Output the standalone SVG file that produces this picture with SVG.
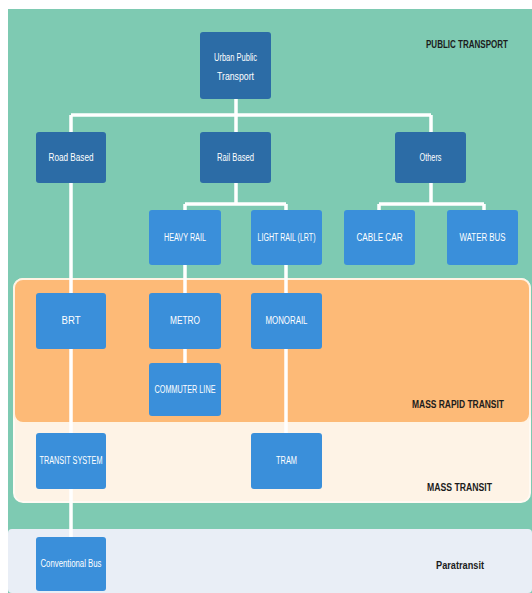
<svg xmlns="http://www.w3.org/2000/svg" width="532" height="593" viewBox="0 0 532 593">
<style>
.bg{fill:#7ecab2}
.dk{fill:#2c6ca6}
.lt{fill:#3a8fda}
.nt{font-family:"Liberation Sans",Arial,sans-serif;font-size:10px;fill:#ffffff;text-anchor:middle}
.lb{font-family:"Liberation Sans",Arial,sans-serif;font-size:11px;font-weight:bold;fill:#1c1c1c;text-anchor:middle}
.cn{stroke:#ffffff;stroke-width:3.5;fill:none}
</style>
<rect width="532" height="593" fill="#ffffff"/>
<rect class="bg" x="8" y="9" width="524" height="584"/>
<rect x="14" y="279" width="516" height="223" rx="9" fill="#fef3e6" stroke="#fffaf3" stroke-width="2"/>
<rect x="14" y="279" width="516" height="144" rx="9" fill="#fdba77" stroke="#fff3e3" stroke-width="2"/>
<rect x="8" y="529" width="524" height="64" rx="4" fill="#e9eef6"/>
<g id="labels">
<text class="lb" x="467" y="48" textLength="82" lengthAdjust="spacingAndGlyphs" font-size="10">PUBLIC TRANSPORT</text>
<text class="lb" x="458" y="408" textLength="92" lengthAdjust="spacingAndGlyphs">MASS RAPID TRANSIT</text>
<text class="lb" x="459.5" y="491" textLength="65" lengthAdjust="spacingAndGlyphs">MASS TRANSIT</text>
<text class="lb" x="460" y="569" textLength="48" lengthAdjust="spacingAndGlyphs" font-weight="normal">Paratransit</text>
</g>
<g id="connectors">
<path class="cn" d="M236 99V115M71 115H431M71 115V537M236 115V132M431 115V132"/>
<path class="cn" d="M236 183V204M185 204H286M185 204V210M286 204V210M185 265V363M286 265V433"/>
<path class="cn" d="M431 183V204M379 204H484M379 204V210M484 204V210"/>
</g>
<g id="n-urban"><rect class="dk" x="200" y="32" width="71" height="67" rx="3"/><text class="nt" x="235.5" y="61" textLength="43" lengthAdjust="spacingAndGlyphs">Urban Public</text><text class="nt" x="235.5" y="80" textLength="37" lengthAdjust="spacingAndGlyphs">Transport</text></g>
<g id="n-road"><rect class="dk" x="36" y="132" width="70" height="51" rx="3"/><text class="nt" x="71" y="161" textLength="45" lengthAdjust="spacingAndGlyphs">Road Based</text></g>
<g id="n-rail"><rect class="dk" x="200" y="132" width="71" height="51" rx="3"/><text class="nt" x="235.5" y="161" textLength="37" lengthAdjust="spacingAndGlyphs">Rail Based</text></g>
<g id="n-others"><rect class="dk" x="395" y="132" width="71" height="51" rx="3"/><text class="nt" x="430.5" y="161" textLength="22" lengthAdjust="spacingAndGlyphs">Others</text></g>
<g id="n-heavy"><rect class="lt" x="149" y="210" width="72" height="55" rx="3"/><text class="nt" x="185" y="241" textLength="42" lengthAdjust="spacingAndGlyphs">HEAVY RAIL</text></g>
<g id="n-light"><rect class="lt" x="251" y="210" width="71" height="55" rx="3"/><text class="nt" x="286.5" y="241" textLength="58" lengthAdjust="spacingAndGlyphs">LIGHT RAIL (LRT)</text></g>
<g id="n-cable"><rect class="lt" x="344" y="210" width="71" height="55" rx="3"/><text class="nt" x="379.5" y="241" textLength="46" lengthAdjust="spacingAndGlyphs">CABLE CAR</text></g>
<g id="n-water"><rect class="lt" x="447" y="210" width="71" height="55" rx="3"/><text class="nt" x="482.5" y="241" textLength="46" lengthAdjust="spacingAndGlyphs">WATER BUS</text></g>
<g id="n-brt"><rect class="lt" x="36" y="293" width="70" height="56" rx="3"/><text class="nt" x="71" y="324" textLength="19" lengthAdjust="spacingAndGlyphs">BRT</text></g>
<g id="n-metro"><rect class="lt" x="149" y="293" width="72" height="56" rx="3"/><text class="nt" x="185" y="324" textLength="30" lengthAdjust="spacingAndGlyphs">METRO</text></g>
<g id="n-monorail"><rect class="lt" x="251" y="293" width="71" height="56" rx="3"/><text class="nt" x="286.5" y="324" textLength="42" lengthAdjust="spacingAndGlyphs">MONORAIL</text></g>
<g id="n-commuter"><rect class="lt" x="149" y="363" width="72" height="53" rx="3"/><text class="nt" x="185" y="393" textLength="61" lengthAdjust="spacingAndGlyphs">COMMUTER LINE</text></g>
<g id="n-transit"><rect class="lt" x="36" y="433" width="70" height="56" rx="3"/><text class="nt" x="71" y="464" textLength="63" lengthAdjust="spacingAndGlyphs">TRANSIT SYSTEM</text></g>
<g id="n-tram"><rect class="lt" x="251" y="433" width="71" height="56" rx="3"/><text class="nt" x="286.5" y="464" textLength="21" lengthAdjust="spacingAndGlyphs">TRAM</text></g>
<g id="n-bus"><rect class="lt" x="36" y="537" width="70" height="54" rx="3"/><text class="nt" x="71" y="567" textLength="61" lengthAdjust="spacingAndGlyphs">Conventional Bus</text></g>
</svg>
